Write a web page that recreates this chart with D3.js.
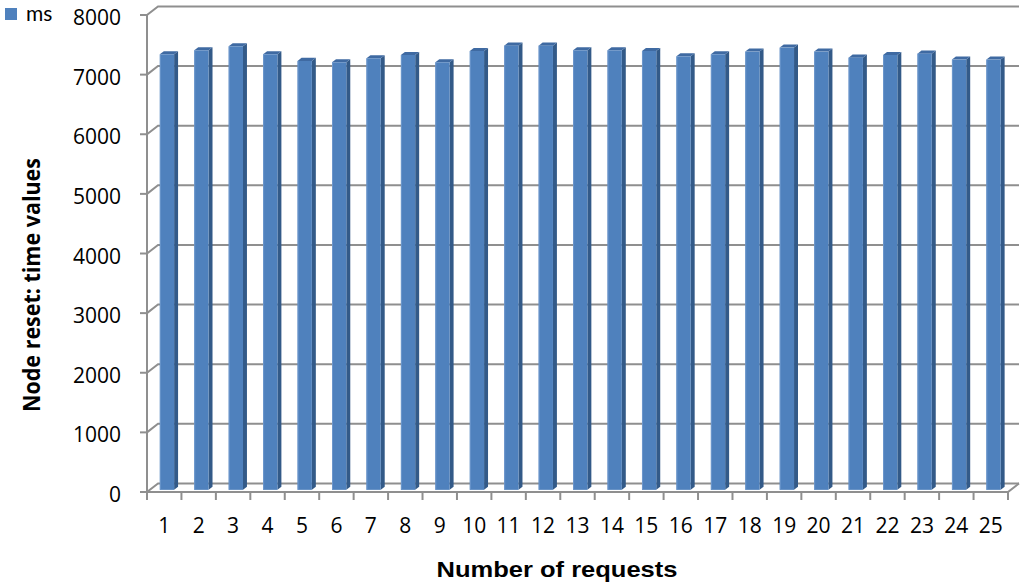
<!DOCTYPE html>
<html><head><meta charset="utf-8">
<script src="https://cdn.jsdelivr.net/npm/d3@7"></script>
<style>body{margin:0;background:#fff}svg{display:block}</style>
</head><body>
<svg id="c" width="1024" height="587"></svg>
<script>
const categories = d3.range(1, 26).map(String);
const msValues = [7305,7372,7439,7305,7193,7171,7238,7293,7171,7360,7450,7450,7372,7372,7360,7271,7305,7350,7417,7350,7249,7293,7316,7216,7216];
const yTicks = [0,1000,2000,3000,4000,5000,6000,7000,8000];
const seriesName = "ms";
const xTitle = "Number of requests";
const yTitle = "Node reset: time values";

const svg = d3.select("#c");
const x0 = 147, x1 = 1008, yb = 492, yt = 15;
const DX = 11, DY = -8.6;
const z0 = 0.25, z1 = 0.61;

const x = d3.scaleBand().domain(categories).range([x0, x1]).paddingInner(0.585).paddingOuter(0.2925);
const y = d3.scaleLinear().domain([0, 8000]).range([yb, yt]);
const P = (px, v, z) => [px + z * DX, y(v) + z * DY];
const poly = pts => pts.map(p=>p.join(",")).join(" ");

const grid = "#8f8f8f";
const gG = svg.append("g").attr("fill","none").attr("stroke",grid).attr("stroke-width",2);
// side wall + back wall gridlines
yTicks.forEach(t => {
  gG.append("polyline").attr("points", poly([P(x0, t, 0), P(x0, t, 1), P(x1, t, 1)]));
});
// floor front edge and right diagonal
gG.append("polyline").attr("points", poly([P(x0 - 7, 0, 0), P(x1, 0, 0), P(x1, 0, 1)]));
// front vertical axis
gG.append("line").attr("x1",x0).attr("x2",x0).attr("y1",y(8000)).attr("y2",y(0));
// y ticks
yTicks.forEach(t => gG.append("line").attr("x1",x0-7).attr("x2",x0).attr("y1",y(t)).attr("y2",y(t)));
// x ticks at category boundaries
const step = x.step();
d3.range(categories.length + 1).forEach(i => {
  const px = x0 + i * step;
  gG.append("line").attr("x1",px).attr("x2",px).attr("y1",yb).attr("y2",yb+8);
});

// bars
const bw = x.bandwidth();
const gB = svg.append("g");
categories.forEach((cat, i) => {
  const v = msValues[i];
  const xl = x(cat), xr = xl + bw;
  gB.append("polygon").attr("points", poly([P(xr,0,z0),P(xr,v,z0),P(xr,v,z1),P(xr,0,z1)])).attr("fill","#335a88");
  gB.append("polygon").attr("points", poly([P(xl,v,z0),P(xr,v,z0),P(xr,v,z1),P(xl,v,z1)])).attr("fill","#3f6aa2");
  const f0 = P(xl,v,z0), f1 = P(xr,0,z0);
  gB.append("rect").attr("x",f0[0]).attr("y",f0[1]).attr("width",f1[0]-f0[0]).attr("height",f1[1]-f0[1]).attr("fill","#4f81bd");
  gB.append("line").attr("x1",f0[0]+0.5).attr("x2",f0[0]+0.5).attr("y1",f0[1]).attr("y2",f1[1]).attr("stroke","#6d97cc").attr("stroke-width",1);
});

const font = "'Open Sans', sans-serif";
// y labels
svg.append("g").selectAll("text").data(yTicks).join("text")
  .attr("x", 121).attr("y", d => y(d) + 10).attr("text-anchor","end")
  .attr("font-family", font).attr("font-size", 21).attr("fill","#000").text(d => d);
// x labels centred on category
svg.append("g").selectAll("text").data(categories).join("text")
  .attr("x", (d, i) => x0 + (i + 0.5) * step).attr("y", 533).attr("text-anchor","middle")
  .attr("font-family", font).attr("font-size", 21).attr("fill","#000")
  .text(d => d);

// legend
svg.append("rect").attr("x",5).attr("y",8).attr("width",12).attr("height",12).attr("fill","#4f81bd");
svg.append("text").attr("x",26).attr("y",21).attr("font-family","Lato, 'Open Sans', sans-serif").attr("font-size",21).attr("fill","#000").text(seriesName);

// titles
svg.append("text").attr("x",557).attr("y",577).attr("text-anchor","middle")
  .attr("font-family","'Liberation Sans', Arial, sans-serif").attr("font-weight","bold").attr("font-size",22.5)
  .attr("textLength",241).attr("lengthAdjust","spacingAndGlyphs").attr("fill","#000").text(xTitle);
svg.append("text").attr("transform","translate(40,285) rotate(-90)").attr("text-anchor","middle")
  .attr("font-family",font).attr("font-weight","bold").attr("font-size",23)
  .attr("textLength",254).attr("lengthAdjust","spacingAndGlyphs").attr("fill","#000").text(yTitle);
</script>
</body></html>
